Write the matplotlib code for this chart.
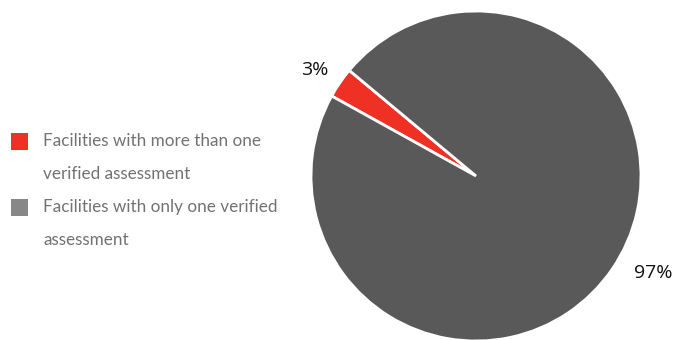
import matplotlib.pyplot as plt
from matplotlib.patches import Rectangle

# share of facilities by number of verified assessments
labels = ["Facilities with more than one verified assessment",
          "Facilities with only one verified assessment"]
legend_lines = [["Facilities with more than one", "verified assessment"],
                ["Facilities with only one verified", "assessment"]]
values = [3, 97]
pie_colors = ["#ee3124", "#595959"]
legend_colors = ["#ee3124", "#878787"]

plt.rcParams['font.family'] = ['Open Sans', 'DejaVu Sans']

W, H = 675, 340
fig = plt.figure(figsize=(W / 100, H / 100), dpi=100)

# pie centred at (476, 176) px with radius 165 px
cx, cy, r = 476, 176, 165
ax = fig.add_axes([(cx - r) / W, (H - cy - r) / H, 2 * r / W, 2 * r / H])
wedges, texts = ax.pie(values, colors=pie_colors, startangle=140.2,
                       counterclock=True,
                       wedgeprops=dict(edgecolor="white", linewidth=2),
                       labels=[f"{v}%" for v in values], labeldistance=1.12,
                       textprops=dict(fontsize=14, color="#111111"))
ax.set_xlim(-1, 1)
ax.set_ylim(-1, 1)
ax.set_aspect("equal")

# place the percentage labels where they sit outside the rim
texts[0].set_position((-0.98, 0.645))
texts[0].set_ha("center")
texts[0].set_va("center")
texts[1].set_position((1.075, -0.585))
texts[1].set_ha("center")
texts[1].set_va("center")

# hand-drawn legend, marker aligned with first text line
rows = [141, 207]
for color, lines, y in zip(legend_colors, legend_lines, rows):
    fig.add_artist(Rectangle((11 / W, (H - y - 8.5) / H), 17 / W, 17 / H,
                             transform=fig.transFigure, facecolor=color,
                             edgecolor="none"))
    for i, line in enumerate(lines):
        fig.text(43 / W, (H - (y + 33 * i)) / H, line, fontsize=12.3,
                 family=['Lato', 'DejaVu Sans'],
                 color="#727272", va="center", ha="left")

fig.savefig("out.png", dpi=100)
